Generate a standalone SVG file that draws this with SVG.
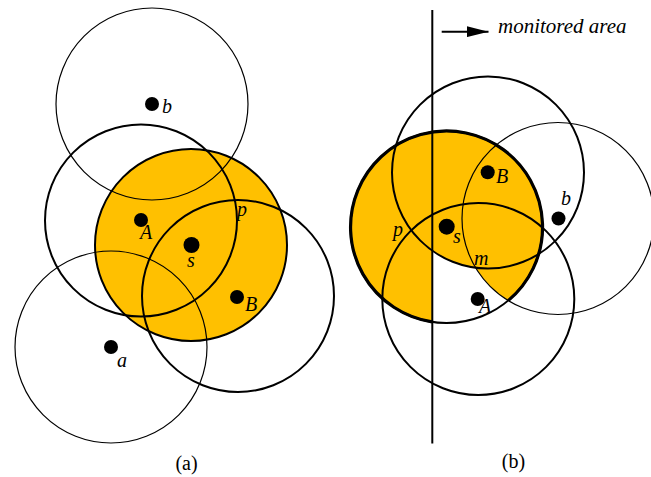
<svg xmlns="http://www.w3.org/2000/svg" width="651" height="477" viewBox="0 0 651 477">
<style>
  .thin { fill: none; stroke: #000; stroke-width: 1.2; }
  .thick { fill: none; stroke: #000; stroke-width: 2; }
  .dot { fill: #000; }
  .lbl { font-family: "Liberation Serif", "Times New Roman", serif; font-style: italic; font-size: 20px; fill: #000; }
  .cap { font-family: "Liberation Serif", "Times New Roman", serif; font-size: 20px; fill: #000; text-anchor: middle; }
  .fillY { fill: #FFC000; stroke: none; }
</style>
<defs>
  <marker id="arrow" viewBox="0 0 22 11" refX="22" refY="5.5" markerWidth="22" markerHeight="11" markerUnits="userSpaceOnUse" orient="auto">
    <path d="M0,0 L22,5.5 L0,11 Z" fill="#000"/>
  </marker>
</defs>
<rect width="651" height="477" fill="#fff"/>

<!-- (a) -->
<g id="a-fill">
  <circle class="fillY" cx="191" cy="245" r="96"/>
</g>
<g id="a-node-b">
  <circle class="thin" cx="152" cy="104" r="96"/>
  <circle class="dot" cx="152" cy="104" r="7"/>
  <text class="lbl" x="162" y="113">b</text>
</g>
<g id="a-node-a">
  <circle class="thin" cx="111" cy="347" r="96"/>
  <circle class="dot" cx="111" cy="347" r="7"/>
  <text class="lbl" x="117" y="367">a</text>
</g>
<g id="a-node-A">
  <circle class="thick" cx="141" cy="220.5" r="96"/>
  <circle class="dot" cx="141" cy="220" r="7"/>
  <text class="lbl" x="140" y="239">A</text>
</g>
<g id="a-node-B">
  <circle class="thick" cx="238" cy="296" r="96"/>
  <circle class="dot" cx="237" cy="297" r="7"/>
  <text class="lbl" x="245" y="311">B</text>
</g>
<g id="a-node-s">
  <circle class="thick" cx="191" cy="245" r="96"/>
  <circle class="dot" cx="191.5" cy="245" r="8"/>
  <text class="lbl" x="187" y="267">s</text>
</g>
<g id="a-point-p">
  <text class="lbl" x="237" y="216">p</text>
</g>
<text class="cap" x="186.5" y="470">(a)</text>

<!-- (b) -->
<g id="b-fill">
  <path class="fillY" d="M432,321.9 A96,96 0 1 1 508.2,300.6 A96,96 0 0 1 475.6,267.7 A96,96 0 0 1 432,250.5 Z"/>
</g>
<g id="b-node-b">
  <circle class="thin" cx="558" cy="218.5" r="96"/>
  <circle class="dot" cx="558.5" cy="218.5" r="7"/>
  <text class="lbl" x="561" y="205">b</text>
</g>
<g id="b-node-B">
  <circle class="thick" cx="488" cy="172.5" r="96"/>
  <circle class="dot" cx="487.7" cy="172.3" r="7"/>
  <text class="lbl" x="496" y="183">B</text>
</g>
<g id="b-node-A">
  <circle class="thick" cx="478.3" cy="299" r="96"/>
  <circle class="dot" cx="477.7" cy="299" r="7"/>
  <text class="lbl" x="479" y="313">A</text>
</g>
<g id="b-node-s">
  <circle class="thick" cx="446.5" cy="227" r="96"/>
  <path fill="none" stroke="#000" stroke-width="3.2" d="M432,321.9 A96,96 0 1 1 508.2,300.6"/>
  <circle class="dot" cx="446.7" cy="226.7" r="8"/>
  <text class="lbl" x="453" y="243">s</text>
</g>
<g id="b-point-p">
  <text class="lbl" x="393" y="236">p</text>
</g>
<g id="b-point-m">
  <text class="lbl" x="474" y="265">m</text>
</g>
<g id="b-boundary">
  <line x1="432.3" y1="10" x2="432.3" y2="443.5" stroke="#000" stroke-width="2"/>
</g>
<g id="connectors">
  <line x1="441.7" y1="31.7" x2="488.5" y2="31.7" stroke="#000" stroke-width="2" marker-end="url(#arrow)"/>
</g>
<text class="lbl" x="498" y="33" style="font-size:21px">monitored area</text>
<text class="cap" x="513.5" y="468">(b)</text>
</svg>
